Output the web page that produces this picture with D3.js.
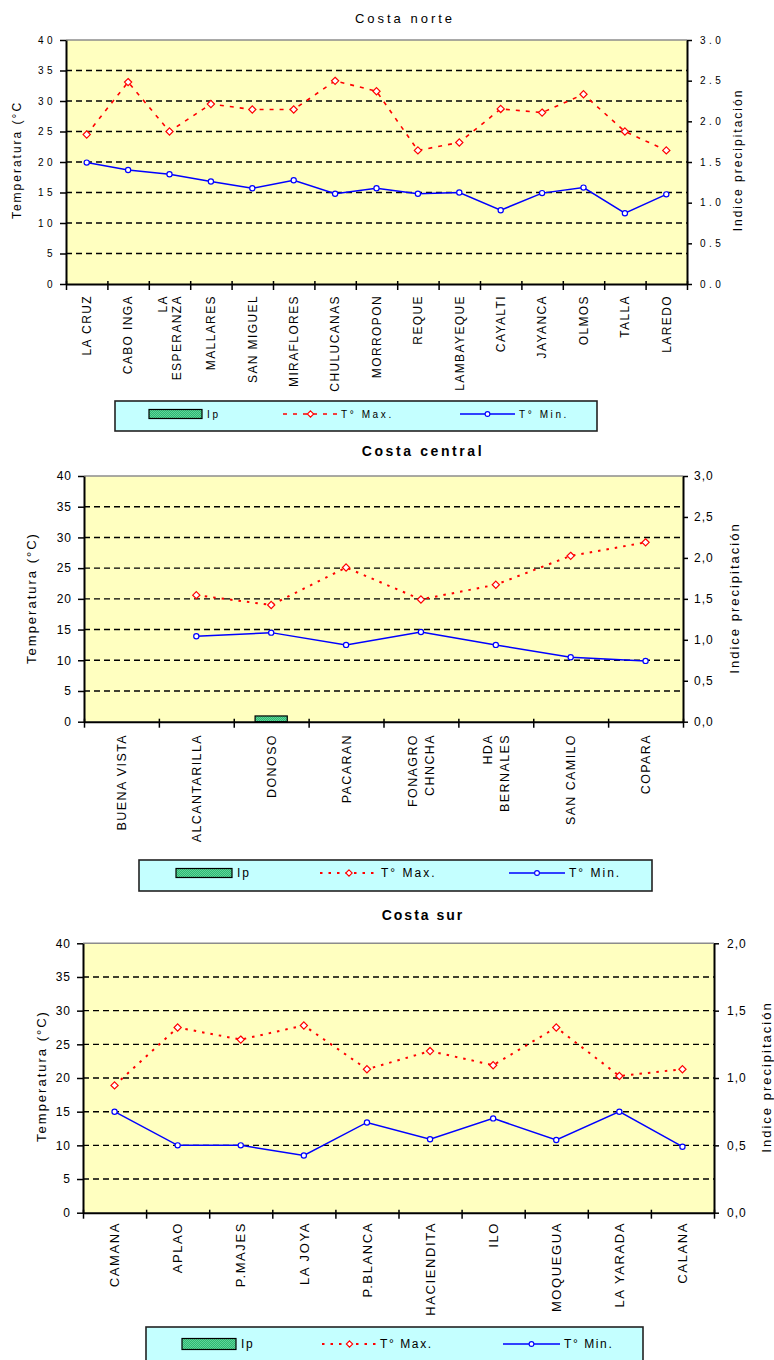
<!DOCTYPE html>
<html>
<head>
<meta charset="utf-8">
<script src="https://cdn.jsdelivr.net/npm/d3@7"></script>
<style>
  body { margin: 0; background: #fff; }
  svg { display: block; font-family: "Liberation Sans", Arial, sans-serif; }
</style>
</head>
<body>
<svg id="chart" width="774" height="1360"></svg>
<script>
// ---- Costa norte ----
const norteStations = ["LA CRUZ", "CABO INGA", "LA\nESPERANZA", "MALLARES", "SAN MIGUEL", "MIRAFLORES", "CHULUCANAS",
  "MORROPON", "REQUE", "LAMBAYEQUE", "CAYALTI", "JAYANCA", "OLMOS", "TALLA", "LAREDO"];
const norteTmax = [24.5, 33.1, 25.0, 29.5, 28.6, 28.6, 33.3, 31.6, 21.9, 23.2, 28.7, 28.1, 31.1, 25.0, 21.9];
const norteTmin = [19.9, 18.7, 18.0, 16.8, 15.7, 17.0, 14.8, 15.7, 14.8, 15.0, 12.1, 14.9, 15.8, 11.6, 14.7];
const norteIp = [0, 0, 0, 0, 0, 0, 0, 0, 0, 0, 0, 0, 0, 0, 0];
const norteIpTicks = [0, 0.5, 1, 1.5, 2, 2.5, 3];
const norteIpLabels = ["0.0", "0.5", "1.0", "1.5", "2.0", "2.5", "3.0"];

// ---- Costa central ----
const centralStations = ["BUENA VISTA", "ALCANTARILLA", "DONOSO", "PACARAN", "FONAGRO\nCHNCHA", "HDA\nBERNALES",
  "SAN CAMILO", "COPARA"];
const centralTmax = [null, 20.6, 19.0, 25.1, 19.9, 22.3, 27.0, 29.2];
const centralTmin = [null, 13.9, 14.5, 12.5, 14.6, 12.5, 10.5, 9.9];
const centralIp = [0, 0, 0.07, 0, 0, 0, 0, 0];
const centralIpTicks = [0, 0.5, 1, 1.5, 2, 2.5, 3];
const centralIpLabels = ["0,0", "0,5", "1,0", "1,5", "2,0", "2,5", "3,0"];

// ---- Costa sur ----
const surStations = ["CAMANA", "APLAO", "P.MAJES", "LA JOYA", "P.BLANCA", "HACIENDITA", "ILO", "MOQUEGUA",
  "LA YARADA", "CALANA"];
const surTmax = [18.9, 27.5, 25.7, 27.8, 21.3, 24.0, 21.9, 27.5, 20.3, 21.3];
const surTmin = [15.0, 10.0, 10.0, 8.5, 13.4, 10.9, 14.0, 10.8, 15.0, 9.8];
const surIp = [0, 0, 0, 0, 0, 0, 0, 0, 0, 0];
const surIpTicks = [0, 0.5, 1, 1.5, 2];
const surIpLabels = ["0,0", "0,5", "1,0", "1,5", "2,0"];

// shared
const tempTicks = [0, 5, 10, 15, 20, 25, 30, 35, 40];
const legendLabels = ["Ip", "T° Max.", "T° Min."];
const leftTitles = ["Temperatura (°C", "Temperatura (°C)", "Temperatura (°C)"];
const rightTitle = "Indice precipitación";
const panelTitles = ["Costa norte", "Costa central", "Costa sur"];

const svg = d3.select("#chart");
const defs = svg.append("defs");
const pat = defs.append("pattern").attr("id", "ipFill").attr("patternUnits", "userSpaceOnUse")
  .attr("width", 2).attr("height", 2);
pat.append("rect").attr("width", 2).attr("height", 2).attr("fill", "#2fb872");
pat.append("rect").attr("width", 1).attr("height", 1).attr("fill", "#5fd49a");
pat.append("rect").attr("x", 1).attr("y", 1).attr("width", 1).attr("height", 1).attr("fill", "#5fd49a");

const RED = "#ff0000", BLUE = "#0000ff";

function diamond(g, x, y, s, sw) {
  g.append("path")
    .attr("d", `M${x},${y - s}L${x + s},${y}L${x},${y + s}L${x - s},${y}Z`)
    .attr("fill", "#fff").attr("stroke", RED).attr("stroke-width", sw);
}

function drawPanel(c) {
  const g = svg.append("g");
  const n = c.stations.length;
  const idx = d3.range(n);

  const xBand = d3.scaleBand().domain(idx).range([c.x0, c.x1]).paddingInner(0.57).paddingOuter(0.285);
  const cx = i => xBand(i) + xBand.bandwidth() / 2;
  const xEdge = d3.scaleLinear().domain([0, n]).range([c.x0, c.x1]);
  const yT = d3.scaleLinear().domain([0, 40]).range([c.bottom, c.top]);
  const yIp = d3.scaleLinear().domain([0, c.ipTicks[c.ipTicks.length - 1]]).range([c.bottom, c.top]);

  // plot background
  g.append("rect").attr("x", c.x0).attr("y", c.top).attr("width", c.x1 - c.x0).attr("height", c.bottom - c.top)
    .attr("fill", "#ffffc0");
  g.append("line").attr("x1", c.x0).attr("x2", c.x1).attr("y1", c.top).attr("y2", c.top)
    .attr("stroke", "#8c8c8c").attr("stroke-width", 1.5);

  // dashed gridlines
  g.selectAll(".grid").data(tempTicks.filter(t => t > 0 && t < 40)).join("line")
    .attr("x1", c.x0).attr("x2", c.x1).attr("y1", d => yT(d)).attr("y2", d => yT(d))
    .attr("stroke", "#000").attr("stroke-width", 1.4).attr("stroke-dasharray", "6,4");

  // precipitation index bars
  g.selectAll(".bar").data(c.ip.map((v, i) => ({ v, i })).filter(d => d.v > 0)).join("rect")
    .attr("x", d => xBand(d.i)).attr("width", xBand.bandwidth())
    .attr("y", d => yIp(d.v)).attr("height", d => c.bottom - yIp(d.v))
    .attr("fill", "url(#ipFill)").attr("stroke", "#000").attr("stroke-width", 1.2);

  // temperature lines
  const line = d3.line().defined(d => d.v != null).x(d => cx(d.i)).y(d => yT(d.v));
  const maxPts = c.tmax.map((v, i) => ({ v, i }));
  const minPts = c.tmin.map((v, i) => ({ v, i }));
  g.append("path").attr("d", line(maxPts)).attr("fill", "none").attr("stroke", RED)
    .attr("stroke-width", c.maxWidth).attr("stroke-dasharray", c.maxDash);
  g.append("path").attr("d", line(minPts)).attr("fill", "none").attr("stroke", BLUE)
    .attr("stroke-width", 1.5);
  maxPts.filter(d => d.v != null).forEach(d => diamond(g, cx(d.i), yT(d.v), 3.6, 1.2));
  g.selectAll(".minpt").data(minPts.filter(d => d.v != null)).join("circle")
    .attr("cx", d => cx(d.i)).attr("cy", d => yT(d.v)).attr("r", 2.6)
    .attr("fill", "#fff").attr("stroke", BLUE).attr("stroke-width", 1.2);

  // axes
  const left = g.append("g").attr("transform", `translate(${c.x0},0)`)
    .call(d3.axisLeft(yT).tickValues(tempTicks).tickSizeInner(6).tickSizeOuter(0).tickPadding(c.tickPad));
  const right = g.append("g").attr("transform", `translate(${c.x1},0)`)
    .call(d3.axisRight(yIp).tickValues(c.ipTicks).tickFormat((d, i) => c.ipLabels[i])
      .tickSizeInner(5).tickSizeOuter(0).tickPadding(c.rTickPad));
  const bottom = g.append("g").attr("transform", `translate(0,${c.bottom})`)
    .call(d3.axisBottom(xEdge).tickValues(d3.range(n + 1)).tickFormat("").tickSizeInner(6).tickSizeOuter(0));
  bottom.selectAll(".tick line").attr("y1", -3);
  [left, right, bottom].forEach(a => {
    a.select(".domain").attr("stroke", "#000").attr("stroke-width", 2);
    a.selectAll(".tick line").attr("stroke", "#000").attr("stroke-width", 1.5);
    a.selectAll("text").attr("fill", "#000").attr("font-family", "Liberation Sans, Arial, sans-serif")
      .attr("font-size", c.tickFont).attr("letter-spacing", c.tickSpacing);
  });

  // station labels
  idx.forEach(i => {
    const lines = c.stations[i].split("\n");
    const t = g.append("text").attr("transform", `translate(${cx(i)},${c.labelTop}) rotate(-90)`)
      .attr("text-anchor", "end").attr("font-size", c.labelFont).attr("letter-spacing", c.labelSpacing);
    lines.forEach((s, k) => {
      t.append("tspan").attr("x", 0).attr("y", (k - (lines.length - 1) / 2) * c.lineGap).attr("dy", "0.36em").text(s);
    });
  });

  // titles
  g.append("text").attr("x", c.titleX).attr("y", c.titleY).attr("text-anchor", "middle")
    .attr("font-size", c.titleFont).attr("font-weight", c.titleWeight).attr("letter-spacing", c.titleSpacing)
    .text(c.title);
  g.append("text").attr("transform", `translate(${c.lTitleX},${c.lTitleY}) rotate(-90)`)
    .attr("text-anchor", "middle").attr("dy", "0.36em").attr("font-size", c.axTitleFont)
    .attr("letter-spacing", c.axTitleSpacing).text(c.leftTitle);
  g.append("text").attr("transform", `translate(${c.rTitleX},${c.rTitleY}) rotate(-90)`)
    .attr("text-anchor", "middle").attr("dy", "0.36em").attr("font-size", c.axTitleFont)
    .attr("letter-spacing", c.axTitleSpacing).text(rightTitle);

  // legend
  const L = c.legend;
  const lg = svg.append("g");
  lg.append("rect").attr("x", L.x0).attr("y", L.y0).attr("width", L.x1 - L.x0).attr("height", L.y1 - L.y0)
    .attr("fill", "#c4ffff").attr("stroke", "#222").attr("stroke-width", 1.6);
  lg.append("rect").attr("x", L.sw[0]).attr("y", L.ty - L.sh / 2).attr("width", L.sw[1] - L.sw[0]).attr("height", L.sh)
    .attr("fill", "url(#ipFill)").attr("stroke", "#000").attr("stroke-width", 1.2);
  lg.append("line").attr("x1", L.red[0]).attr("x2", L.red[1]).attr("y1", L.ty).attr("y2", L.ty)
    .attr("stroke", RED).attr("stroke-width", c.maxWidth).attr("stroke-dasharray", c.maxDash);
  diamond(lg, (L.red[0] + L.red[1]) / 2, L.ty, 3.2, 1.1);
  lg.append("line").attr("x1", L.blue[0]).attr("x2", L.blue[1]).attr("y1", L.ty).attr("y2", L.ty)
    .attr("stroke", BLUE).attr("stroke-width", 1.5);
  lg.append("circle").attr("cx", (L.blue[0] + L.blue[1]) / 2).attr("cy", L.ty).attr("r", 2.4)
    .attr("fill", "#fff").attr("stroke", BLUE).attr("stroke-width", 1.1);
  const tx = [L.sw[1] + 5, L.red[1] + 3, L.blue[1] + 4];
  legendLabels.forEach((s, k) => {
    lg.append("text").attr("x", tx[k]).attr("y", L.ty).attr("dy", "0.36em").attr("font-size", L.font)
      .attr("letter-spacing", L.spacing).text(s);
  });
}

drawPanel({
  stations: norteStations, tmax: norteTmax, tmin: norteTmin, ip: norteIp,
  ipTicks: norteIpTicks, ipLabels: norteIpLabels,
  x0: 66, x1: 687, top: 40, bottom: 284,
  tickFont: 10, tickSpacing: 3.5, tickPad: 4, rTickPad: 8,
  labelTop: 295, labelFont: 12, labelSpacing: 1.4, lineGap: 14,
  maxWidth: 1.6, maxDash: "4,6",
  title: panelTitles[0], titleX: 405, titleY: 23, titleFont: 13, titleWeight: "normal", titleSpacing: 3,
  leftTitle: leftTitles[0], lTitleX: 17, lTitleY: 160, rTitleX: 738, rTitleY: 160,
  axTitleFont: 12, axTitleSpacing: 2,
  legend: { x0: 115, x1: 597, y0: 401, y1: 431, ty: 414, sw: [149, 202], sh: 9,
            red: [283, 338], blue: [460, 515], font: 10, spacing: 2.6 }
});

drawPanel({
  stations: centralStations, tmax: centralTmax, tmin: centralTmin, ip: centralIp,
  ipTicks: centralIpTicks, ipLabels: centralIpLabels,
  x0: 84, x1: 683, top: 476, bottom: 721.7,
  tickFont: 12, tickSpacing: 1, tickPad: 6, rTickPad: 6,
  labelTop: 734, labelFont: 12.5, labelSpacing: 1.4, lineGap: 17,
  maxWidth: 2, maxDash: "2.5,6",
  title: panelTitles[1], titleX: 423, titleY: 456, titleFont: 14, titleWeight: "bold", titleSpacing: 2.6,
  leftTitle: leftTitles[1], lTitleX: 31, lTitleY: 598, rTitleX: 734, rTitleY: 598,
  axTitleFont: 13, axTitleSpacing: 2,
  legend: { x0: 139, x1: 652, y0: 860, y1: 891, ty: 873, sw: [176, 232], sh: 9,
            red: [320, 378], blue: [509, 565], font: 12, spacing: 2 }
});

drawPanel({
  stations: surStations, tmax: surTmax, tmin: surTmin, ip: surIp,
  ipTicks: surIpTicks, ipLabels: surIpLabels,
  x0: 83, x1: 714, top: 943.3, bottom: 1212.7,
  tickFont: 12, tickSpacing: 1, tickPad: 6, rTickPad: 8,
  labelTop: 1222, labelFont: 13, labelSpacing: 1.6, lineGap: 16,
  maxWidth: 2, maxDash: "2.5,6",
  title: panelTitles[2], titleX: 423, titleY: 920, titleFont: 14, titleWeight: "bold", titleSpacing: 2,
  leftTitle: leftTitles[2], lTitleX: 41, lTitleY: 1076, rTitleX: 766, rTitleY: 1077,
  axTitleFont: 13, axTitleSpacing: 2,
  legend: { x0: 146, x1: 643, y0: 1327, y1: 1361, ty: 1344, sw: [182, 236], sh: 11,
            red: [322, 377], blue: [503, 560], font: 12, spacing: 1.6 }
});
</script>
</body>
</html>
